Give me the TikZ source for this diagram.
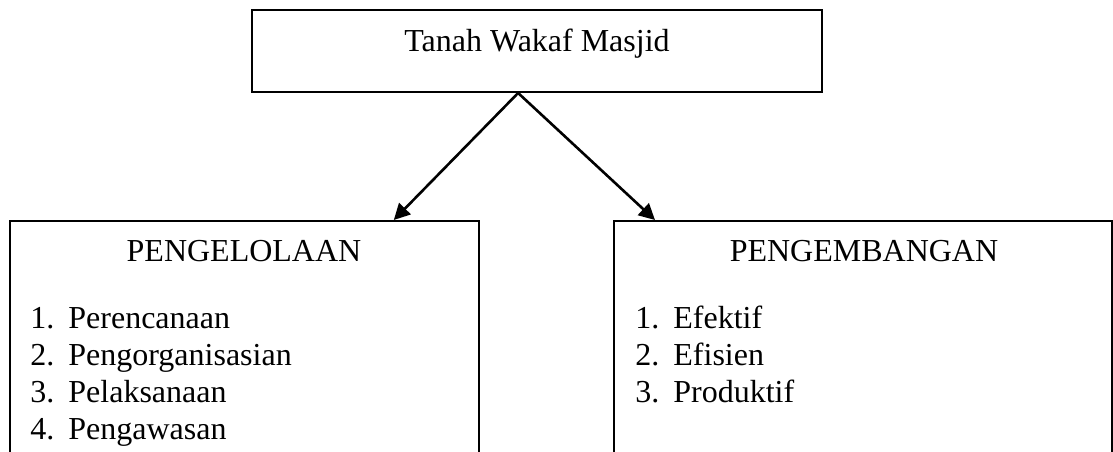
\documentclass[tikz,border=0pt]{standalone}
\usepackage{fontspec}
\setmainfont{Liberation Serif}
\usetikzlibrary{arrows.meta,calc,fit}
\begin{document}
\begin{tikzpicture}[x=0.5bp,y=-0.5bp,
  every node/.style={font=\fontsize{16bp}{18.5bp}\selectfont},
  box/.style={draw, line width=1bp, inner sep=0pt, fit={#1}},
  title/.style={inner sep=0pt, anchor=base},
  item/.style={inner sep=0pt, anchor=base west},
  link/.style={-{Triangle[length=8bp,width=8bp]}, line width=1.3bp}]
\clip (0,0) rectangle (1113,452);

% frames
\node[box={(252,10) (822,92)}] (top) {};
\node[box={(10,221) (479,480)}] (kelola) {};
\node[box={(614,221) (1112,480)}] (kembang) {};

% headings
\node[title] (ttop) at (537,52) {Tanah Wakaf Masjid};
\node[title] (tkelola) at (244,262) {PENGELOLAAN};
\node[title] (tkembang) at (864,262) {PENGEMBANGAN};

% management steps
\foreach \n/\t [count=\i] in {1/Perencanaan,2/Pengorganisasian,3/Pelaksanaan,4/Pengawasan}{
  \node[item] (kn\i) at (30,{329+37*(\i-1)}) {\n.};
  \node[item] (kt\i) at (68,{329+37*(\i-1)}) {\t};
}

% development criteria
\foreach \n/\t [count=\i] in {1/Efektif,2/Efisien,3/Produktif}{
  \node[item] (en\i) at (635,{329+37*(\i-1)}) {\n.};
  \node[item] (et\i) at (673,{329+37*(\i-1)}) {\t};
}

% connectors
\coordinate (src) at ($(top.south west)!0.467!(top.south east)$);
\draw[link] (src) -- ($(kelola.north west)!0.817!(kelola.north east)$);
\draw[link] (src) -- ($(kembang.north west)!0.084!(kembang.north east)$);
\end{tikzpicture}
\end{document}
